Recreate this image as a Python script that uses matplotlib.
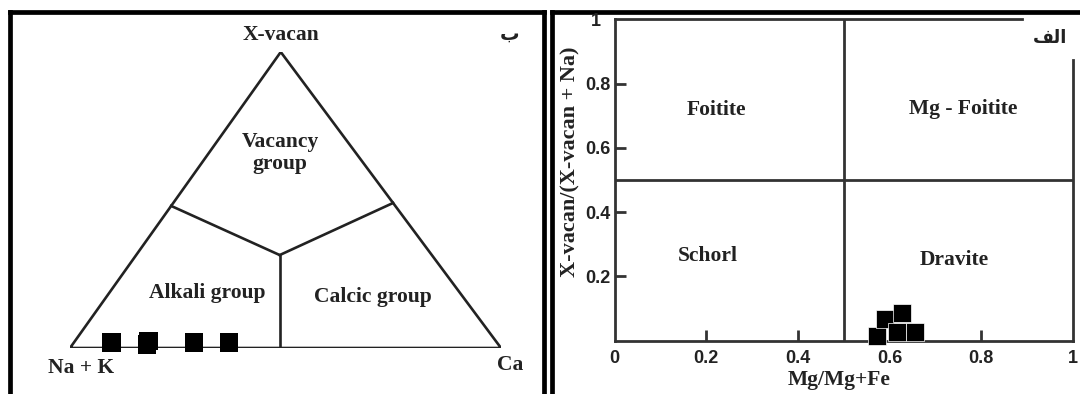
import matplotlib
matplotlib.use("Agg")

import matplotlib.pyplot as plt
from matplotlib.lines      import Line2D
from matplotlib.transforms import ScaledTranslation


# -----------------------------------------------------------------------------
# Data
# -----------------------------------------------------------------------------
# left: ternary X-vacancy / Na+K / Ca, samples as (Ca, X-vacancy) fractions
tern_ca  = [0.088, 0.170, 0.173, 0.279, 0.360]
tern_vac = [0.018, 0.024, 0.012, 0.018, 0.018]

# right: Mg/(Mg+Fe) vs X-vacan/(X-vacan + Na)
mg_ratio  = [0.572, 0.589, 0.615, 0.626, 0.655]
vac_ratio = [0.016, 0.067, 0.026, 0.085, 0.027]

x_ticks = [0, 0.2, 0.4, 0.6, 0.8, 1]
y_ticks = [0.2, 0.4, 0.6, 0.8, 1]

W, H    = 1080, 394
APEX_X  = 0.489          # apex is not quite over the middle of the base
INK     = "#222222"
SERIF   = ["Liberation Serif", "DejaVu Serif"]
SANS    = ["Liberation Sans", "DejaVu Sans"]


def px_axes(fig, x0, y0, x1, y1):
    """add axes given in image pixels (origin top-left)"""
    return fig.add_axes([x0 / W, 1 - y1 / H, (x1 - x0) / W, (y1 - y0) / H])


def tern(ca, vac):
    """ternary fractions -> triangle coords (Na+K at 0, Ca at 1, X-vacan on top)"""
    return ca + APEX_X * vac, vac


fig = plt.figure(figsize=(W / 100, H / 100), dpi=100)

# panel frames -----------------------------------------------------------------
ov = fig.add_axes([0, 0, 1, 1])
ov.set_xlim(0, W)
ov.set_ylim(H, 0)
ov.axis("off")
frame = dict(color="black", lw=3.4, solid_capstyle="projecting")
ov.add_line(Line2D([9.5, 9.5],     [11.5, H + 5],  **frame))
ov.add_line(Line2D([9.5, 544],     [11.5, 11.5],   **frame))
ov.add_line(Line2D([544, 544],     [11.5, H + 5],  **frame))
ov.add_line(Line2D([551.5, 551.5], [11.5, H + 5],  **frame))
ov.add_line(Line2D([551.5, W + 5], [11.5, 11.5],   **frame))

# left: ternary ----------------------------------------------------------------
axl = px_axes(fig, 70, 52, 501, 348)
axl.set_xlim(0, 1)
axl.set_ylim(0, 1)
axl.axis("off")

edge = dict(color=INK, lw=1.9, solid_joinstyle="miter")
tri = [tern(0, 0), tern(1, 0), tern(0, 1), tern(0, 0)]
axl.plot([p[0] for p in tri], [p[1] for p in tri], **edge)

centre = tern(0.333, 0.314)
for end in [tern(0, 0.48), tern(0.51, 0.49), tern(centre[0], 0)]:
    axl.plot([end[0], centre[0]], [end[1], centre[1]], **edge)

px, py = zip(*[tern(c, v) for c, v in zip(tern_ca, tern_vac)])
axl.scatter(px, py, marker="s", s=13.5 ** 2, color="black",
            edgecolors="none", zorder=5, clip_on=False)

lbl = dict(family=SERIF, weight="bold", size=15.5, color=INK,
           ha="center", va="center")
axl.text(0.487, 0.659, "Vacancy\ngroup", linespacing=1.1, **lbl)
axl.text(0.318, 0.186, "Alkali group", **lbl)
axl.text(0.702, 0.173, "Calcic group", **lbl)
axl.text(0.490, 1.057, "X-vacan", clip_on=False, **lbl)
axl.text(0.026, -0.069, "Na + K", clip_on=False, **lbl)
axl.text(1.021, -0.059, "Ca", clip_on=False, **lbl)
axl.text(1.021, 1.061, "\uFE8F", family=["DejaVu Sans"], weight="bold",
         size=14, color=INK, ha="center", va="center")

# right: classification plot -------------------------------------------------
axr = px_axes(fig, 614.7, 19.3, 1073, 340.7)
axr.set_xlim(0, 1)
axr.set_ylim(0, 1)
for side in ["left", "bottom", "top", "right"]:
    axr.spines[side].set_color("#333333")
    axr.spines[side].set_linewidth(2)
axr.spines["top"].set_bounds(0, 0.889)
axr.spines["right"].set_bounds(0, 0.874)

axr.plot([0.5, 0.5], [0, 1], color="#333333", lw=2)
axr.plot([0, 1], [0.5, 0.5], color="#333333", lw=2)

axr.scatter(mg_ratio, vac_ratio, marker="s", s=13 ** 2, color="black",
            edgecolors="white", linewidths=0.5, zorder=5, clip_on=False)

axr.set_xticks(x_ticks)
axr.set_xticklabels(["0", "0.2", "0.4", "0.6", "0.8", "1"])
axr.set_yticks(y_ticks)
axr.set_yticklabels(["0.2", "0.4", "0.6", "0.8", "1"])
axr.tick_params(direction="in", length=8, width=2, color="#333333",
                labelsize=13, labelcolor=INK)
axr.tick_params(axis="x", pad=7)
axr.tick_params(axis="y", pad=3)
for t in axr.get_xticklabels() + axr.get_yticklabels():
    t.set_fontfamily(SANS)
    t.set_fontweight("bold")
xt = axr.xaxis.get_major_ticks()
xt[0].tick1line.set_visible(False)
xt[-1].tick1line.set_visible(False)
top_tick = axr.yaxis.get_major_ticks()[-1]
top_tick.tick1line.set_visible(False)
# the "1" sits a little further left than the other y labels
top_tick.label1.set_transform(top_tick.label1.get_transform()
                              + ScaledTranslation(-0.1, 0, fig.dpi_scale_trans))

axr.text(0.221, 0.719, "Foitite", **lbl)
axr.text(0.760, 0.722, "Mg - Foitite", **lbl)
axr.text(0.203, 0.264, "Schorl", **lbl)
axr.text(0.740, 0.252, "Dravite", **lbl)
axr.text(0.950, 0.943, "\uFED2\uFEDF\uFE8D", family=["DejaVu Sans"],
         weight="bold", size=13, color=INK, ha="center", va="center")

axr.text(-0.096, 0.558, "X-vacan/(X-vacan + Na)", rotation=90,
         family=SERIF, weight="bold", size=16, color=INK,
         ha="center", va="center", transform=axr.transAxes)
axr.text(0.489, -0.122, "Mg/Mg+Fe", family=SERIF, weight="bold", size=15.5,
         color=INK, ha="center", va="center", transform=axr.transAxes)

fig.savefig("out.png", dpi=100)
